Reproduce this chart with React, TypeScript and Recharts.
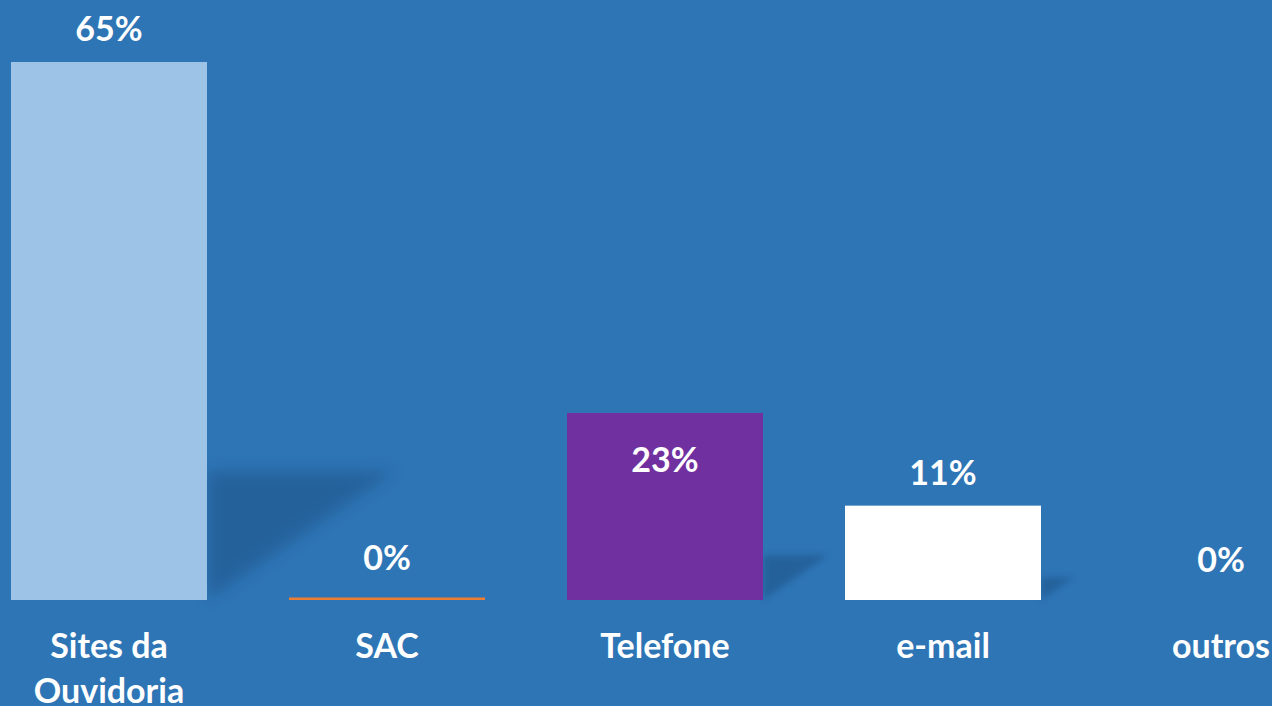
import React from "react";
import { BarChart, Bar, XAxis, YAxis, Cell, LabelList } from "recharts";

const categories = ["Sites da Ouvidoria", "SAC", "Telefone", "e-mail", "outros"];
const values = [65, 0.3, 22.6, 11.4, 0];
const barColors = ["#9DC3E6", "#ED7D31", "#7030A0", "#FFFFFF", "#A5A5A5"];
const insideLabelCategories = ["Telefone"];

const data = categories.map((name, i) => ({ name, value: values[i] }));

const BG = "#2E75B6";
const FONT = "Lato, 'Open Sans', sans-serif";
const FS = 34;

let measureCtx: CanvasRenderingContext2D | null = null;
const measure = (s: string) => {
  if (!measureCtx) {
    const c = document.createElement("canvas");
    measureCtx = c.getContext("2d");
  }
  if (!measureCtx) return s.length * FS * 0.55;
  measureCtx.font = `700 ${FS}px Lato`;
  return measureCtx.measureText(s).width;
};

const wrap = (s: string, maxW: number) => {
  const words = s.split(" ");
  const lines: string[] = [];
  let cur = "";
  words.forEach((w) => {
    const t = cur ? `${cur} ${w}` : w;
    if (cur && measure(t) > maxW) {
      lines.push(cur);
      cur = w;
    } else {
      cur = t;
    }
  });
  if (cur) lines.push(cur);
  return lines;
};

const BarWithShadow = (props: any) => {
  const { x, y, width, height, fill } = props;
  if (height == null || width == null) return null;
  const base = y + height;
  const right = x + width;
  const sh = height * 0.24;
  const sw = height * 0.35;
  const blur = Math.max(3, height * 0.014);
  return (
    <g>
      {height > 10 && (
        <polygon
          points={`${right},${base - sh} ${right + sw},${base - sh} ${right},${base}`}
          fill="#1b4f82"
          opacity={0.5}
          style={{ filter: `blur(${blur}px)` }}
        />
      )}
      {height > 0 && <rect x={x} y={y} width={width} height={height} fill={fill} />}
    </g>
  );
};

const renderLabel = (props: any) => {
  const { x, y, width, height, value, index } = props;
  const cx = x + width / 2;
  const inside = insideLabelCategories.includes(categories[index]);
  const baseline = inside ? y + 59 : y - (height < 5 ? 28 : 21);
  return (
    <text
      x={cx}
      y={baseline}
      textAnchor="middle"
      fill="#FFFFFF"
      fontFamily={FONT}
      fontWeight={700}
      fontSize={FS}
    >
      {`${Math.round(value)}%`}
    </text>
  );
};

const renderTick = (props: any) => {
  const { x, payload } = props;
  const lines = wrap(String(payload.value), 200);
  return (
    <text
      textAnchor="middle"
      fill="#FFFFFF"
      fontFamily={FONT}
      fontWeight={700}
      fontSize={FS}
    >
      {lines.map((l, i) => (
        <tspan key={i} x={x} y={658 + i * 45}>
          {l}
        </tspan>
      ))}
    </text>
  );
};

export default function App() {
  return (
    <div
      style={{
        position: "absolute",
        left: 0,
        top: 0,
        width: 1272,
        height: 706,
        overflow: "hidden",
        background: BG,
      }}
    >
      <div style={{ position: "absolute", left: -30, top: 0 }}>
        <BarChart
          width={1390}
          height={706}
          data={data}
          margin={{ top: 62, right: 0, left: 0, bottom: 0 }}
          barCategoryGap={41}
        >
          <XAxis
            dataKey="name"
            axisLine={false}
            tickLine={false}
            height={106}
            interval={0}
            tick={renderTick}
          />
          <YAxis hide domain={[0, 65]} />
          <Bar dataKey="value" isAnimationActive={false} shape={BarWithShadow}>
            {data.map((d, i) => (
              <Cell key={d.name} fill={barColors[i]} />
            ))}
            <LabelList dataKey="value" content={renderLabel} />
          </Bar>
        </BarChart>
      </div>
    </div>
  );
}
